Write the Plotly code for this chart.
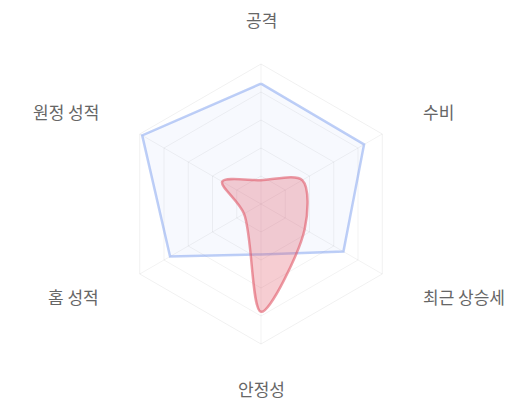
import math
import plotly.graph_objects as go

# ===== data =====
categories = ['공격', '수비', '최근 상승세', '안정성', '홈 성적', '원정 성적']
team_a = [86, 85, 68, 36, 75, 98]
team_b = [17, 34, 36, 77, 14, 32]

theta = categories + categories[:1]

fig = go.Figure()

fig.add_trace(go.Scatterpolar(
    r=team_a + team_a[:1],
    theta=theta,
    mode='lines',
    fill='toself',
    fillcolor='rgba(99, 140, 235, 0.05)',
    line=dict(color='rgba(99, 140, 235, 0.42)', width=2.5),
    showlegend=False,
))

fig.add_trace(go.Scatterpolar(
    r=team_b + team_b[:1],
    theta=theta,
    mode='lines',
    fill='toself',
    fillcolor='rgba(225, 90, 105, 0.3)',
    line=dict(color='rgba(225, 90, 105, 0.6)', width=2.5, shape='spline', smoothing=0.9),
    showlegend=False,
))

# axis names placed outside the hexagon (plot area is 506 x 280 px)
plot_w, plot_h = 506, 280
label_r = 185
for i, name in enumerate(categories):
    ang = math.radians(i * 360 / len(categories))
    dx = label_r * math.sin(ang)
    dy = label_r * math.cos(ang)
    if abs(dx) < 1:
        xanchor = 'center'
    elif dx > 0:
        xanchor = 'left'
    else:
        xanchor = 'right'
    fig.add_annotation(
        x=0.5 + dx / plot_w, y=0.5 + dy / plot_h,
        xref='paper', yref='paper',
        text=name, showarrow=False,
        xanchor=xanchor, yanchor='middle',
        font=dict(size=17, color='#666'),
    )

fig.update_layout(
    width=520,
    height=400,
    margin=dict(l=0, r=14, t=56, b=64),
    paper_bgcolor='white',
    font=dict(family='Noto Sans CJK KR, sans-serif', size=17, color='#666'),
    polar=dict(
        bgcolor='white',
        gridshape='linear',
        radialaxis=dict(
            range=[0, 100],
            showticklabels=False,
            ticks='',
            showline=False,
            gridcolor='rgba(0,0,0,0.05)',
        ),
        angularaxis=dict(
            rotation=90,
            direction='clockwise',
            showticklabels=False,
            ticks='',
            gridcolor='rgba(0,0,0,0.05)',
            linecolor='rgba(0,0,0,0.06)',
        ),
    ),
)

fig.write_html('out.html')
